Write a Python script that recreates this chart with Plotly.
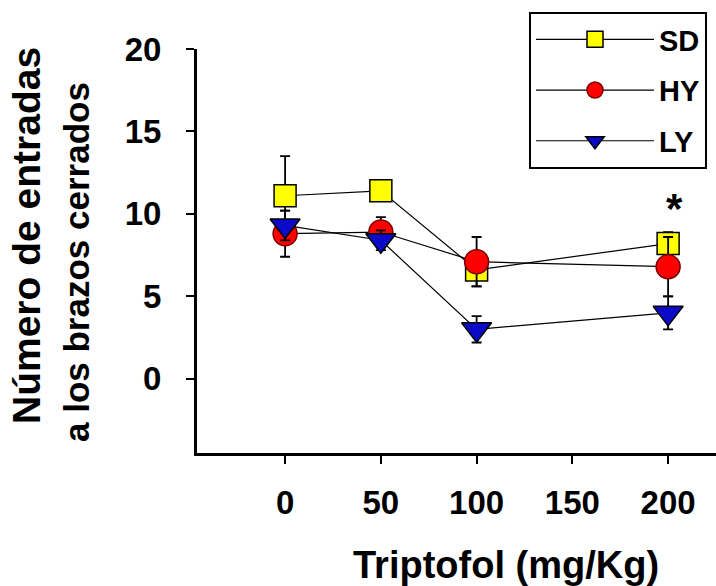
import plotly.graph_objects as go

doses = [0, 50, 100, 200]
sd_vals = [11.1, 11.4, 6.6, 8.2]
sd_err = [2.4, 0.5, 1.0, 0.7]
hy_vals = [8.8, 8.9, 7.1, 6.8]
hy_err = [1.4, 0.9, 1.5, 1.8]
ly_vals = [9.3, 8.4, 3.0, 4.0]
ly_err = [0.9, 0.6, 0.8, 1.0]
x_ticks = [0, 50, 100, 150, 200]
y_ticks = [0, 5, 10, 15, 20]

FONT = "Arial, Liberation Sans, sans-serif"

fig = go.Figure()

def add(name, y, err, symbol, color, outline, size, group):
    fig.add_trace(go.Scatter(
        x=doses, y=y, name=name, mode="lines+markers",
        legendgroup=group,
        line=dict(color="black", width=1.2),
        marker=dict(symbol=symbol, size=size, color=color,
                    line=dict(color=outline, width=1.5)),
        error_y=dict(type="data", array=err, visible=True,
                     color="black", thickness=1.8, width=5),
    ))

add("SD", sd_vals, sd_err, "square", "#FFFF00", "black", 22, "a")
add("HY", hy_vals, hy_err, "circle", "#FF0000", "#7a0000", 24, "b")
add("LY", ly_vals, ly_err, "triangle-down", "#0A0AC8", "black", 26, "c")

fig.add_annotation(x=200, y=10.3, text="*", showarrow=False,
                   xshift=6, font=dict(family=FONT, size=42, color="black", weight="bold"))

fig.add_annotation(xref="paper", yref="paper", x=(26 - 197) / 519, y=(453 - 236) / 404,
                   xanchor="center", yanchor="middle",
                   text="Número de entradas", textangle=-90, showarrow=False,
                   font=dict(family=FONT, size=39, color="black", weight="bold"))
fig.add_annotation(xref="paper", yref="paper", x=(76 - 197) / 519, y=(453 - 262) / 404,
                   xanchor="center", yanchor="middle",
                   text="a los brazos cerrados", textangle=-90, showarrow=False,
                   font=dict(family=FONT, size=35, color="black", weight="bold"))
fig.add_annotation(xref="paper", yref="paper", x=(506 - 197) / 519, y=(453 - 565) / 404,
                   xanchor="center", yanchor="middle",
                   text="Triptofol (mg/Kg)", showarrow=False,
                   font=dict(family=FONT, size=38, color="black", weight="bold"))

fig.update_layout(
    width=716, height=586,
    margin=dict(l=197, r=0, t=49, b=133),
    paper_bgcolor="white", plot_bgcolor="white",
    showlegend=True,
    legend=dict(x=(707 - 197) / 519, xanchor="right", y=(453 - 12) / 404, yanchor="top",
                bordercolor="black", borderwidth=2, bgcolor="white",
                font=dict(family=FONT, size=29, color="black", weight="bold"),
                tracegroupgap=10, itemwidth=118),
    xaxis=dict(range=[-46, 225], tickvals=x_ticks, showgrid=False, zeroline=False,
               showline=True, linecolor="black", linewidth=3,
               ticks="outside", ticklen=8, tickwidth=2, tickcolor="black",
               ticklabelstandoff=10,
               tickfont=dict(family=FONT, size=33, color="black", weight="bold")),
    yaxis=dict(range=[-4.5, 20], tickvals=y_ticks, showgrid=False, zeroline=False,
               showline=True, linecolor="black", linewidth=3,
               ticks="outside", ticklen=8, tickwidth=2, tickcolor="black",
               ticklabelstandoff=18,
               tickfont=dict(family=FONT, size=33, color="black", weight="bold")),
)

fig.write_html("out.html")
